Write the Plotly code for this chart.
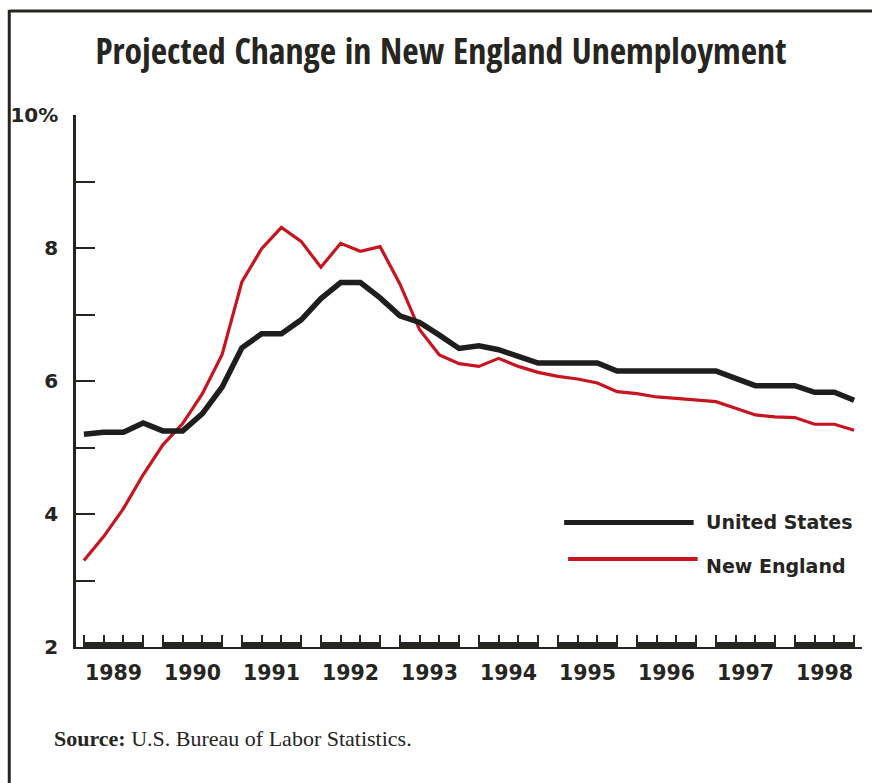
import plotly.graph_objects as go

# Quarterly unemployment rates (%), 1989 Q1 through 1998 Q4
years = list(range(1989, 1999))
quarters = [1, 2, 3, 4]
us_rate = [5.20, 5.23, 5.23, 5.37, 5.25, 5.25, 5.51, 5.91, 6.50, 6.71,
           6.71, 6.92, 7.24, 7.48, 7.48, 7.25, 6.98, 6.88, 6.69, 6.49,
           6.53, 6.47, 6.37, 6.27, 6.27, 6.27, 6.27, 6.15, 6.15, 6.15,
           6.15, 6.15, 6.15, 6.04, 5.93, 5.93, 5.93, 5.83, 5.83, 5.71]
ne_rate = [3.30, 3.66, 4.08, 4.59, 5.04, 5.36, 5.81, 6.40, 7.49, 7.99,
           8.31, 8.10, 7.71, 8.07, 7.95, 8.02, 7.46, 6.77, 6.39, 6.26,
           6.22, 6.34, 6.22, 6.13, 6.07, 6.03, 5.97, 5.84, 5.81, 5.76,
           5.74, 5.71, 5.69, 5.59, 5.49, 5.46, 5.45, 5.35, 5.35, 5.26]
y_tick_values = [2, 3, 4, 5, 6, 7, 8, 9, 10]
y_tick_text = ["2", "", "4", "", "6", "", "8", "", "10%"]
series_names = ["United States", "New England"]

# Quarter positions on a continuous year scale
x_quarters = [y + (q - 1) / 4 for y in years for q in quarters]

W, H = 872, 783
ML, MR, MT, MB = 73, 10, 115, 136
PW, PH = W - ML - MR, H - MT - MB

INK = "#26251f"
US_COLOR = "#1f1e1c"
NE_COLOR = "#c8141f"
BOLD_SANS = "DejaVu Sans"
TITLE_FONT = "Open Sans Condensed, Open Sans Condensed Bold, Roboto Condensed, Arial Narrow, sans-serif"


def px_x(px):
    return (px - ML) / PW


def px_y(py):
    return (H - MB - py) / PH


fig = go.Figure()
fig.add_trace(go.Scatter(x=x_quarters, y=ne_rate, mode="lines", name=series_names[1],
                         line=dict(color=NE_COLOR, width=3.2), showlegend=False))
fig.add_trace(go.Scatter(x=x_quarters, y=us_rate, mode="lines", name=series_names[0],
                         line=dict(color=US_COLOR, width=5.5), showlegend=False))

shapes = []
# Thick bar spanning Q1..Q4 of each year along the base
for y in years:
    shapes.append(dict(type="line", xref="x", yref="paper", x0=y, x1=y + 0.75,
                       y0=px_y(644.5), y1=px_y(644.5), line=dict(color=INK, width=5),
                       layer="above"))

# Frame rules (top and left)
shapes.append(dict(type="line", xref="paper", yref="paper", x0=px_x(6), x1=px_x(W + 2),
                   y0=px_y(11), y1=px_y(11), line=dict(color=INK, width=3)))
shapes.append(dict(type="line", xref="paper", yref="paper", x0=px_x(6), x1=px_x(6),
                   y0=px_y(10), y1=px_y(H + 2), line=dict(color=INK, width=3)))

# Legend keys
shapes.append(dict(type="line", xref="paper", yref="paper", x0=px_x(563), x1=px_x(693),
                   y0=px_y(522.5), y1=px_y(522.5), line=dict(color=US_COLOR, width=5)))
shapes.append(dict(type="line", xref="paper", yref="paper", x0=px_x(567), x1=px_x(697),
                   y0=px_y(559), y1=px_y(559), line=dict(color=NE_COLOR, width=4)))

annotations = []
for y in years:
    annotations.append(dict(x=y + 0.375, xref="x", y=px_y(673), yref="paper",
                            text=str(y), showarrow=False, xanchor="center", yanchor="middle",
                            font=dict(family=BOLD_SANS, size=20.5, color=INK, weight="bold")))

annotations.append(dict(x=px_x(703), y=px_y(522), xref="paper", yref="paper",
                        text=series_names[0], showarrow=False, xanchor="left", yanchor="middle",
                        font=dict(family=BOLD_SANS, size=19, color=INK, weight="bold")))
annotations.append(dict(x=px_x(703), y=px_y(566), xref="paper", yref="paper",
                        text=series_names[1], showarrow=False, xanchor="left", yanchor="middle",
                        font=dict(family=BOLD_SANS, size=19, color=INK, weight="bold")))

annotations.append(dict(x=px_x(49), y=px_y(738), xref="paper", yref="paper",
                        text="<b>Source:</b> U.S. Bureau of Labor Statistics.",
                        showarrow=False, xanchor="left", yanchor="middle",
                        font=dict(family="Liberation Serif, DejaVu Serif, serif", size=22, color=INK)))

fig.update_layout(
    width=W, height=H,
    margin=dict(l=ML, r=MR, t=MT, b=MB),
    paper_bgcolor="white", plot_bgcolor="white",
    title=dict(text="<b>Projected Change in New England Unemployment</b>",
               x=441 / W, xanchor="center", y=1 - 52 / H, yanchor="middle",
               font=dict(family=TITLE_FONT, size=35.5, color=INK)),
    xaxis=dict(range=[1988.9, 1998.85], tickmode="array", tickvals=x_quarters,
               ticks="inside", ticklen=12, tickwidth=2, tickcolor=INK,
               showticklabels=False, showline=True, linewidth=2, linecolor=INK,
               showgrid=False, zeroline=False, fixedrange=True),
    yaxis=dict(range=[2, 10], tickmode="array", tickvals=y_tick_values, ticktext=y_tick_text,
               ticks="inside", ticklen=19, tickwidth=2.2, tickcolor=INK,
               showline=True, linewidth=2.5, linecolor=INK, ticklabelstandoff=11,
               tickfont=dict(family=BOLD_SANS, size=20, color=INK, weight="bold"),
               showgrid=False, zeroline=False, fixedrange=True),
    shapes=shapes,
    annotations=annotations,
    showlegend=False,
)

fig.write_html("out.html")
